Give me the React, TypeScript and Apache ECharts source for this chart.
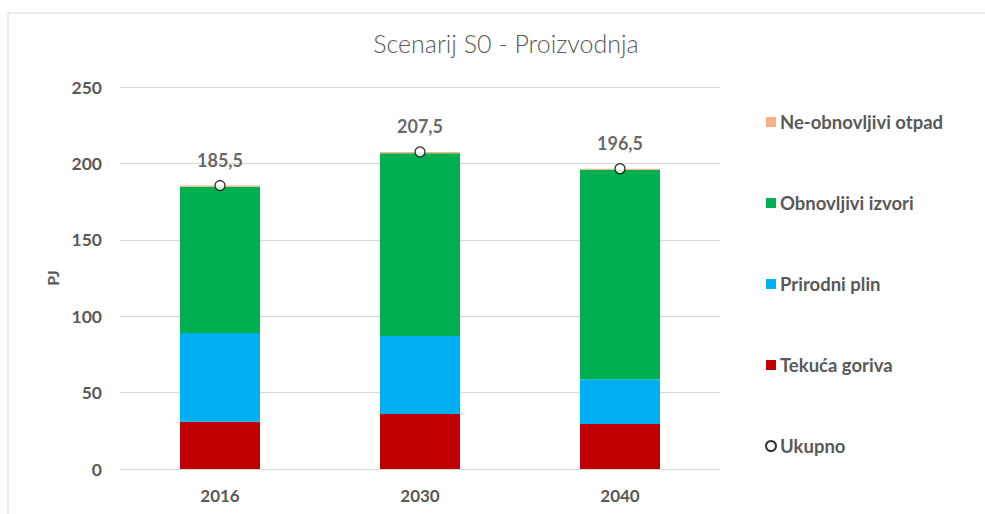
import React, { useEffect, useRef } from "react";
import * as echarts from "echarts";

const categories = ["2016", "2030", "2040"];
const tekucaGoriva = [31.0, 36.0, 29.5];
const prirodniPlin = [58.0, 51.0, 29.2];
const obnovljiviIzvori = [95.7, 119.6, 137.2];
const neObnovljiviOtpad = [0.8, 0.9, 0.6];
const ukupno = [185.5, 207.5, 196.5];
const yTicks = [0, 50, 100, 150, 200, 250];

const FONT = "Lato, 'Open Sans', sans-serif";
const GRAY = "#595959";

export default function App() {
  const ref = useRef<HTMLDivElement>(null);
  useEffect(() => {
    if (!ref.current) return;
    const chart = echarts.init(ref.current, undefined, { renderer: "svg" });
    const barStyle = (color: string) => ({ color });
    chart.setOption({
      animation: false,
      textStyle: { fontFamily: FONT },
      graphic: [
        {
          type: "rect",
          shape: { x: 8, y: 13, width: 1100, height: 600 },
          style: { fill: "none", stroke: "#d9d9d9", lineWidth: 1 },
          silent: true,
        },
      ],
      title: {
        text: "Scenarij S0 - Proizvodnja",
        left: 506,
        textAlign: "center",
        top: 30,
        padding: 0,
        textStyle: { fontFamily: FONT, fontSize: 25, fontWeight: 300, color: GRAY },
      },
      legend: {
        orient: "vertical",
        left: 765,
        top: 112,
        padding: 0,
        itemWidth: 10,
        itemHeight: 10,
        itemGap: 61,
        textStyle: { fontFamily: FONT, fontSize: 18.5, fontWeight: "bold", color: GRAY, lineHeight: 20, padding: [0, 0, 0, -1] },
        data: [
          { name: "Ne-obnovljivi otpad", icon: "rect" },
          { name: "Obnovljivi izvori", icon: "rect" },
          { name: "Prirodni plin", icon: "rect" },
          { name: "Tekuća goriva", icon: "rect" },
          { name: "Ukupno", icon: "circle" },
        ],
      },
      grid: { left: 120, right: 265, top: 87, bottom: 45 },
      xAxis: {
        type: "category",
        data: categories,
        axisLine: { lineStyle: { color: "#d9d9d9", width: 1 } },
        axisTick: { show: false },
        axisLabel: { color: GRAY, fontFamily: FONT, fontSize: 17, fontWeight: "bold", margin: 18 },
      },
      yAxis: {
        type: "value",
        min: yTicks[0],
        max: yTicks[yTicks.length - 1],
        interval: 50,
        name: "PJ",
        nameLocation: "middle",
        nameRotate: 90,
        nameGap: 60,
        nameTextStyle: { color: GRAY, fontFamily: FONT, fontSize: 16, fontWeight: "bold" },
        axisLine: { show: false },
        axisTick: { show: false },
        axisLabel: { color: GRAY, fontFamily: FONT, fontSize: 17.5, fontWeight: "bold", margin: 18 },
        splitLine: { lineStyle: { color: "#d9d9d9", width: 1 } },
      },
      series: [
        { name: "Tekuća goriva", type: "bar", stack: "s", barWidth: "40%", data: tekucaGoriva, itemStyle: barStyle("#C00000") },
        { name: "Prirodni plin", type: "bar", stack: "s", data: prirodniPlin, itemStyle: barStyle("#00B0F0") },
        { name: "Obnovljivi izvori", type: "bar", stack: "s", data: obnovljiviIzvori, itemStyle: barStyle("#00B050") },
        { name: "Ne-obnovljivi otpad", type: "bar", stack: "s", data: neObnovljiviOtpad, itemStyle: barStyle("#F4B183") },
        {
          name: "Ukupno",
          type: "scatter",
          data: ukupno,
          symbol: "circle",
          symbolSize: 10,
          itemStyle: { color: "#ffffff", borderColor: "#000000", borderWidth: 1.3 },
          label: {
            show: true,
            position: "top",
            distance: 11,
            color: "#404040",
            fontFamily: FONT,
            fontSize: 18,
            fontWeight: 700,
            formatter: (p: any) => Number(p.value).toFixed(1).replace(".", ","),
          },
          z: 5,
        },
      ],
    });
    return () => chart.dispose();
  }, []);
  return (
    <div
      ref={ref}
      style={{ position: "fixed", left: 0, top: 0, width: 985, height: 514, background: "#ffffff" }}
    />
  );
}
